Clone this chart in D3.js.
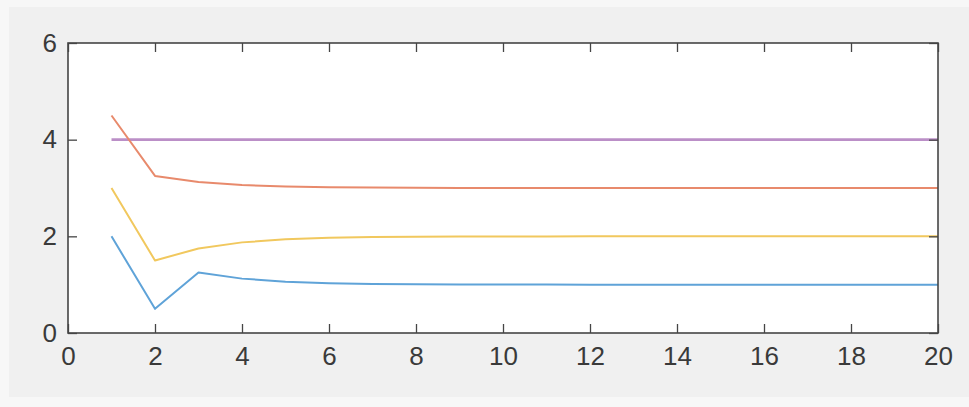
<!DOCTYPE html>
<html>
<head>
<meta charset="utf-8">
<script src="https://cdn.jsdelivr.net/npm/d3@7"></script>
<style>
  html, body { margin: 0; padding: 0; background: #f7f7f7; }
  svg { display: block; }
  .tick text { font-family: Arial, "Liberation Sans", sans-serif; }
</style>
</head>
<body>
<svg id="chart" width="969" height="407"></svg>
<script>
// Iteration index and the four sequences
const xValues = [1, 2, 3, 4, 5, 6, 7, 8, 9, 10, 11, 12, 13, 14, 15, 16, 17, 18, 19, 20];
const seriesBlue = [2, 0.5, 1.25, 1.125, 1.0625, 1.03, 1.016, 1.008, 1.004, 1.002, 1.001, 1.0005, 1.0002, 1.0001, 1, 1, 1, 1, 1, 1];
const seriesOrange = [4.5, 3.25, 3.125, 3.0625, 3.03, 3.016, 3.008, 3.004, 3.002, 3.001, 3.0005, 3.0002, 3.0001, 3, 3, 3, 3, 3, 3, 3];
const seriesYellow = [3, 1.5, 1.75, 1.875, 1.9375, 1.97, 1.985, 1.992, 1.996, 1.998, 1.999, 1.9995, 1.9998, 1.9999, 2, 2, 2, 2, 2, 2];
const seriesPurple = [4, 4, 4, 4, 4, 4, 4, 4, 4, 4, 4, 4, 4, 4, 4, 4, 4, 4, 4, 4];
const xTicks = [0, 2, 4, 6, 8, 10, 12, 14, 16, 18, 20];
const yTicks = [0, 2, 4, 6];

const series = [
  { values: seriesBlue, color: "#5fa3d8", width: 2 },
  { values: seriesOrange, color: "#e88a6c", width: 2 },
  { values: seriesYellow, color: "#f1c85e", width: 2 },
  { values: seriesPurple, color: "#bb8fc7", width: 2.8 }
];

const svg = d3.select("#chart");
const plotLeft = 68, plotRight = 938, plotTop = 43, plotBottom = 333;

const x = d3.scaleLinear().domain([0, 20]).range([plotLeft, plotRight]);
const y = d3.scaleLinear().domain([0, 6]).range([plotBottom, plotTop]);

// figure background panel
svg.append("rect")
  .attr("x", 9).attr("y", 7)
  .attr("width", 960).attr("height", 390)
  .attr("fill", "#f0f0f0");

// plot area
svg.append("rect")
  .attr("x", plotLeft).attr("y", plotTop)
  .attr("width", plotRight - plotLeft).attr("height", plotBottom - plotTop)
  .attr("fill", "#ffffff");

// data lines (purple drawn first, behind the others at the crossing)
const line = d3.line().x((d, i) => x(xValues[i])).y(d => y(d));
const order = [3, 0, 1, 2];
order.forEach(k => {
  const s = series[k];
  svg.append("path")
    .datum(s.values)
    .attr("fill", "none")
    .attr("stroke", s.color)
    .attr("stroke-width", s.width)
    .attr("stroke-linejoin", "round")
    .attr("d", line);
});

const axisColor = "#454545";
const tickLen = 9;

function styleAxis(g) {
  g.attr("font-size", 26).attr("font-family", "Arial, 'Liberation Sans', sans-serif");
  g.select(".domain").remove();
  g.selectAll(".tick line").attr("stroke", axisColor).attr("stroke-width", 1.3);
  g.selectAll(".tick text").attr("fill", "#3a3a3a");
}

// bottom axis, ticks pointing inward
svg.append("g")
  .attr("transform", `translate(0,${plotBottom})`)
  .call(d3.axisBottom(x).tickValues(xTicks).tickFormat(d3.format("d"))
    .tickSizeInner(-tickLen).tickSizeOuter(0).tickPadding(14))
  .call(styleAxis);

// top axis ticks
svg.append("g")
  .attr("transform", `translate(0,${plotTop})`)
  .call(d3.axisTop(x).tickValues(xTicks).tickSizeInner(-tickLen).tickSizeOuter(0).tickFormat(""))
  .call(styleAxis);

// left axis
svg.append("g")
  .attr("transform", `translate(${plotLeft},0)`)
  .call(d3.axisLeft(y).tickValues(yTicks).tickFormat(d3.format("d"))
    .tickSizeInner(-tickLen).tickSizeOuter(0).tickPadding(11))
  .call(styleAxis);

// right axis ticks
svg.append("g")
  .attr("transform", `translate(${plotRight},0)`)
  .call(d3.axisRight(y).tickValues(yTicks).tickSizeInner(-tickLen).tickSizeOuter(0).tickFormat(""))
  .call(styleAxis);

// box
svg.append("rect")
  .attr("x", plotLeft).attr("y", plotTop)
  .attr("width", plotRight - plotLeft).attr("height", plotBottom - plotTop)
  .attr("fill", "none")
  .attr("stroke", axisColor)
  .attr("stroke-width", 1.6);
</script>
</body>
</html>
